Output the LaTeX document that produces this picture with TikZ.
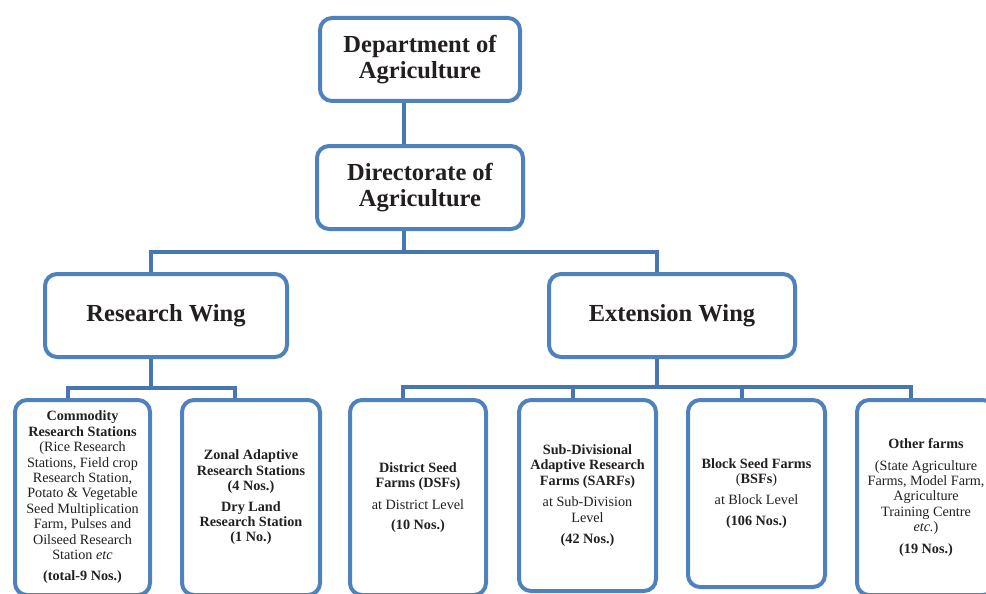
\documentclass[tikz,border=0pt]{standalone}
\usepackage{fontspec}
\setmainfont{Liberation Serif}
\usetikzlibrary{positioning}

\definecolor{boxblue}{HTML}{4F81BD}
\definecolor{linkblue}{HTML}{4876B0}
\definecolor{ink}{HTML}{231F20}

\tikzset{
    orgbox/.style={draw=boxblue, line width=4pt, rounded corners=12pt, fill=white,
        align=center, text=ink, inner sep=0pt},
    headbox/.style={orgbox, font=\fontsize{24.5}{25.5}\selectfont\bfseries, minimum height=83pt},
    farmbox/.style={orgbox, font=\fontsize{14.2}{15.4}\selectfont, minimum width=137pt, minimum height=195pt},
    link/.style={draw=linkblue, line width=4pt},
}

\begin{document}
\begin{tikzpicture}[x=1pt,y=-1pt]
        \useasboundingbox (0,0) rectangle (986,594);

        % Top of the tree
        \node[headbox, minimum width=200pt] (dept) at (420,59.5) {Department of\\Agriculture};
        \node[headbox, minimum width=206pt] (dir) at (420,187.5) {Directorate of\\Agriculture};

        % Wings
        \node[headbox, minimum width=242pt] (rw) at (166,315.5) {Research Wing};
        \node[headbox, minimum width=246pt] (ew) at (672,315.5) {Extension Wing};

        % Research wing units
        \node[farmbox, minimum width=135pt] (crs) at (82.5,497.5) {\textbf{Commodity}\\\textbf{Research Stations}\\(Rice Research\\Stations, Field crop\\Research Station,\\Potato \& Vegetable\\Seed Multiplication\\Farm, Pulses and\\Oilseed Research\\Station \textit{etc}\\[6pt]\textbf{(total-9 Nos.)}};
        \node[farmbox, minimum width=138pt] (zar) at (251,497.5) {\textbf{Zonal Adaptive}\\\textbf{Research Stations}\\\textbf{(4 Nos.)}\\[5pt]\textbf{Dry Land}\\\textbf{Research Station}\\\textbf{(1 No.)}};

        % Extension wing units
        \node[farmbox, minimum width=136pt] (dsf) at (418,497.5) {\textbf{District Seed}\\\textbf{Farms (DSFs)}\\[6pt]at District Level\\[5pt]\textbf{(10 Nos.)}};
        \node[farmbox, minimum height=191pt] (sarf) at (587.5,495.5) {\textbf{Sub-Divisional}\\\textbf{Adaptive Research}\\\textbf{Farms (SARFs)}\\[6pt]at Sub-Division\\Level\\[6pt]\textbf{(42 Nos.)}};
        \node[farmbox, minimum height=187pt] (bsf) at (756.5,493.5) {\textbf{Block Seed Farms}\\(\textbf{BSFs})\\[5pt]at Block Level\\[6pt]\textbf{(106 Nos.)}};
        \node[farmbox, minimum width=138pt] (oth) at (926,497.5) {\textbf{Other farms}\\[6pt](State Agriculture\\Farms, Model Farm,\\Agriculture\\Training Centre\\\textit{etc.})\\[6pt]\textbf{(19 Nos.)}};

        % Connectors
        \coordinate (wingbus) at (404,252);
        \coordinate (rbus) at (151,388);
        \coordinate (ebus) at (657,387);

        \draw[link] ([xshift=-16pt]dept.south) -- ([xshift=-16pt]dir.north);
        \draw[link] ([xshift=-16pt]dir.south) -- (wingbus);
        \draw[link] ([xshift=-15pt]rw.north) |- (wingbus) -| ([xshift=-15pt]ew.north);

        \draw[link] ([xshift=-15pt]rw.south) -- (rbus);
        \draw[link] ([xshift=-15pt]crs.north) |- (rbus) -| ([xshift=-16pt]zar.north);

        \draw[link] ([xshift=-15pt]ew.south) -- (ebus);
        \foreach \f in {dsf,sarf,bsf,oth}
           {
                \draw[link] ([xshift=-15pt]\f.north) |- (ebus);
           }
    \end{tikzpicture}
\end{document}
